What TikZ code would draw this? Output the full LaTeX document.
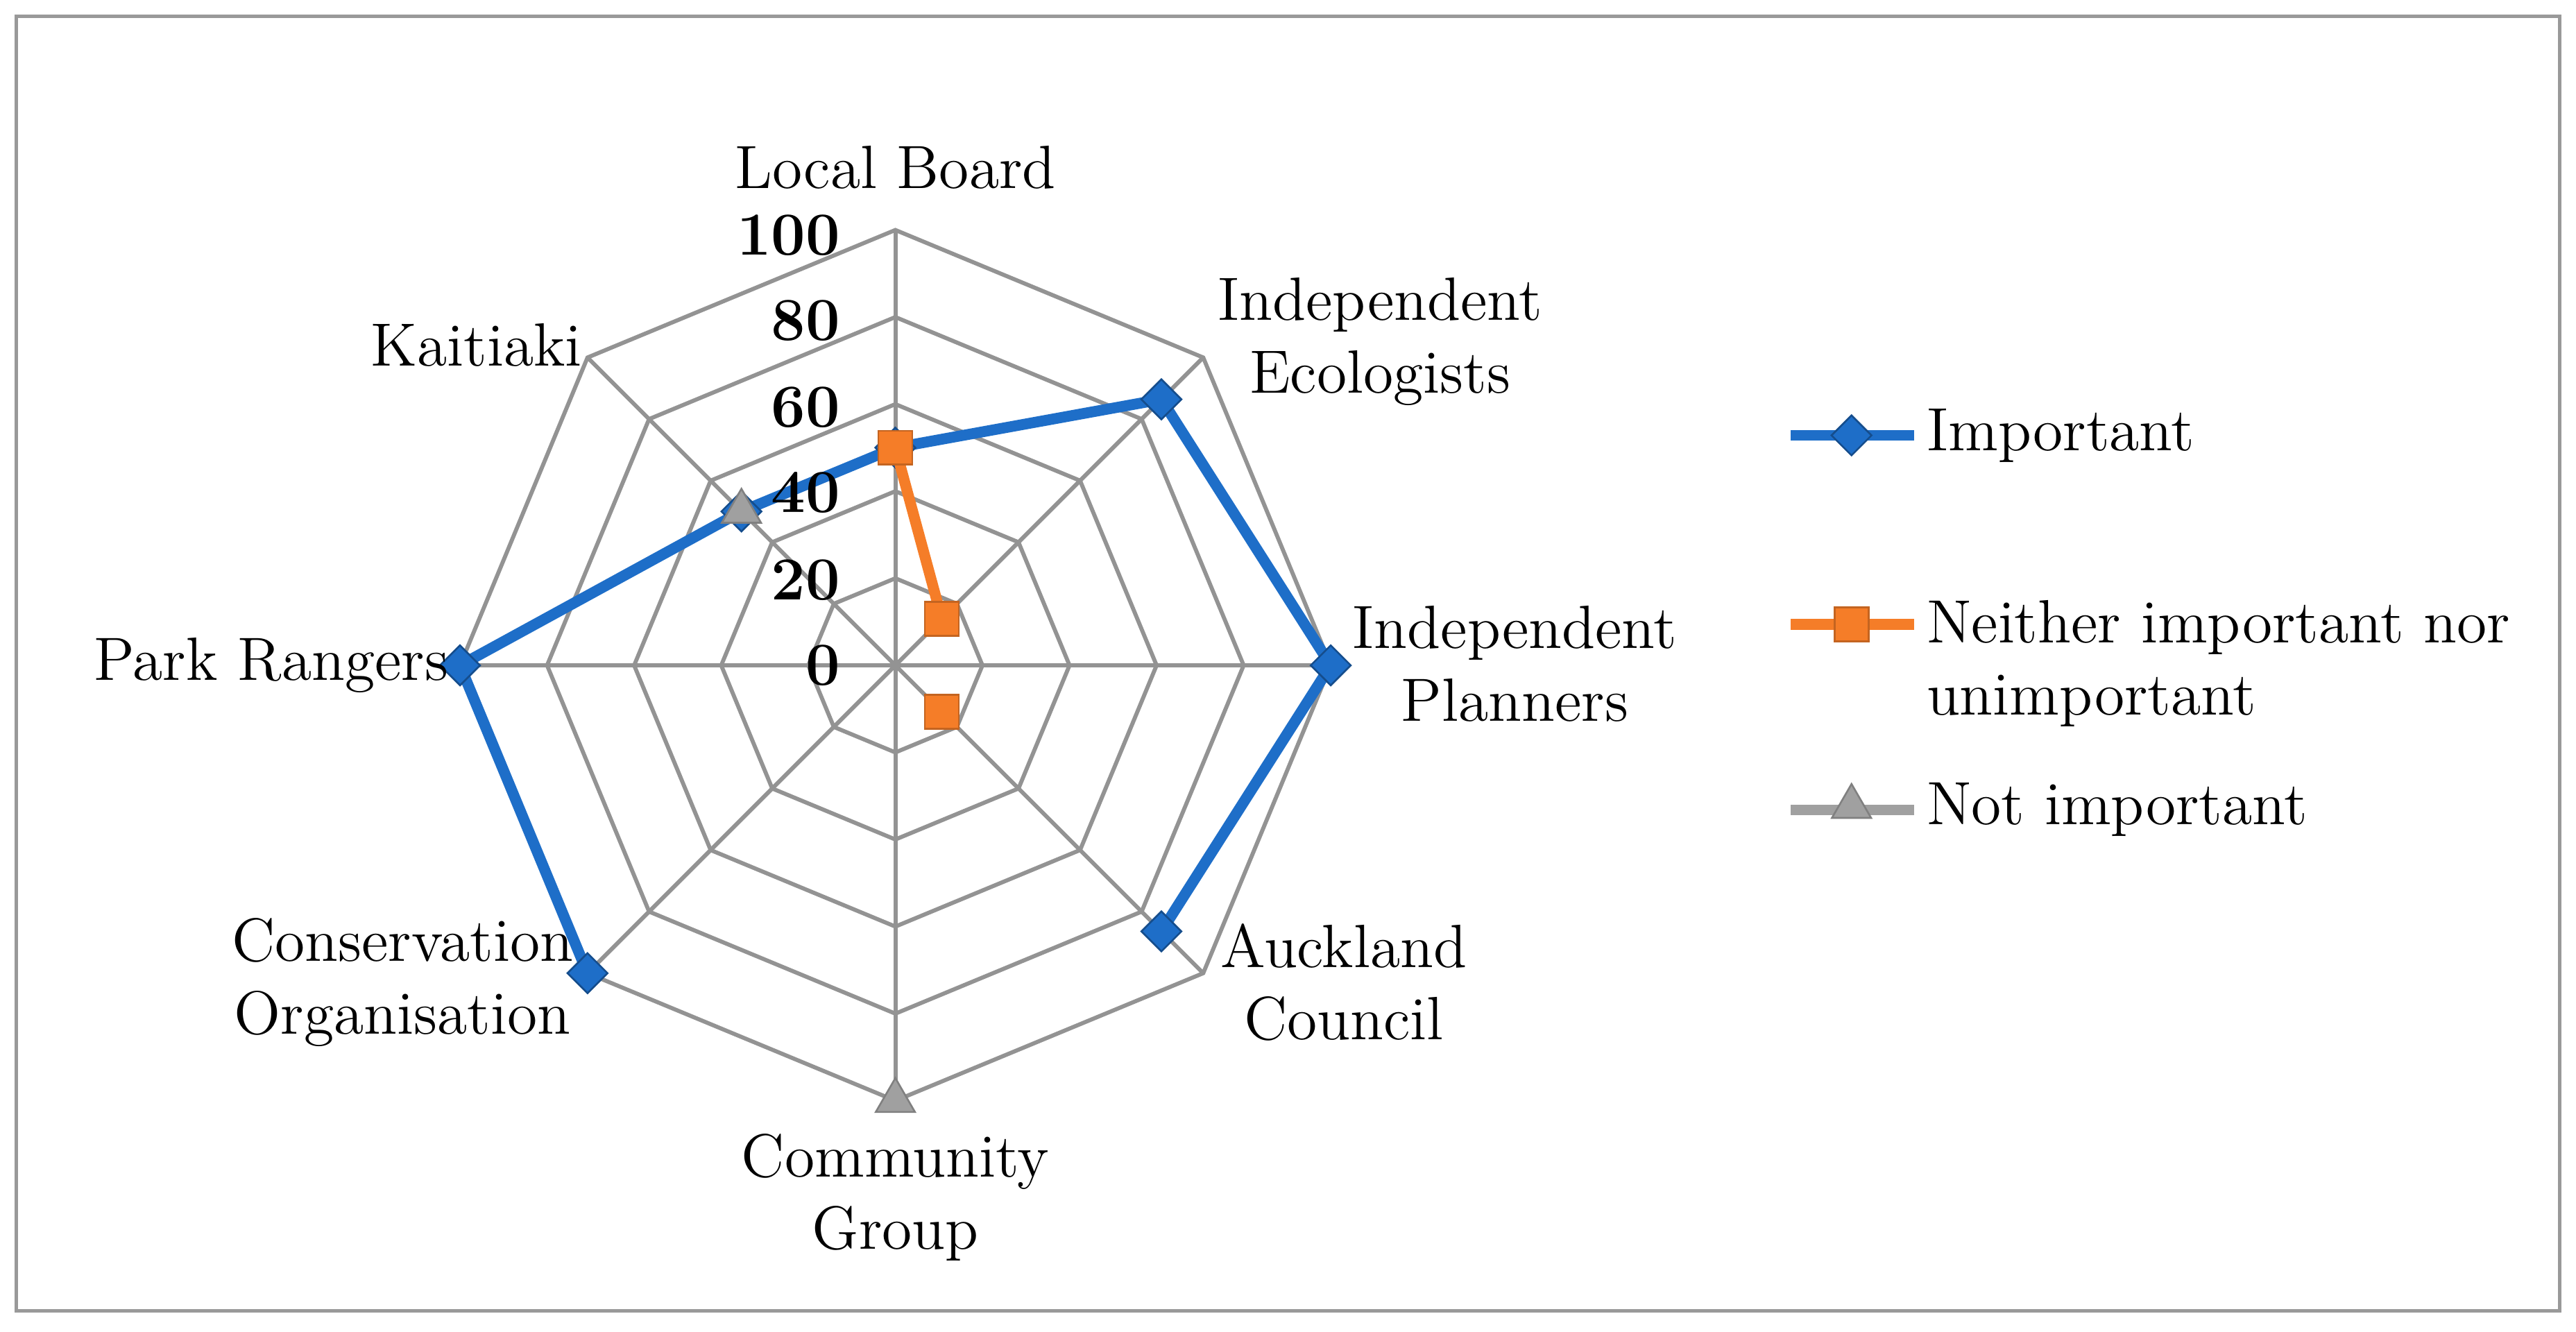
\documentclass[tikz,border=0pt]{standalone}
\usetikzlibrary{shapes.geometric}
\definecolor{cblue}{RGB}{30,110,200}
\definecolor{corange}{RGB}{245,125,40}
\definecolor{cgray}{RGB}{160,160,160}
\begin{document}
\begin{tikzpicture}[x=0.012755cm,y=0.012755cm,
  grid/.style={draw=gray!85,line width=0.9pt},
  lab/.style={font=\fontsize{13.5}{16}\selectfont,align=center},
  tick/.style={font=\fontsize{13.5}{16}\selectfont\bfseries,anchor=east,inner sep=0pt},
  imp/.style={draw=cblue,line width=2.4pt},
  neu/.style={draw=corange,line width=2.4pt},
  dia/.style={diamond,fill=cblue,draw=cblue!70!black,line width=0.4pt,minimum size=9pt,inner sep=0pt},
  sq/.style={rectangle,fill=corange,draw=corange!80!black,line width=0.4pt,minimum size=7.5pt,inner sep=0pt},
  tri/.style={regular polygon,regular polygon sides=3,fill=cgray,draw=cgray!80!black,line width=0.4pt,minimum size=10pt,inner sep=0pt}]
\useasboundingbox (0,0) rectangle (1568,-810.8);
\draw[gray!80,line width=0.8pt] (10,-10) rectangle (1558,-798);
\begin{scope}[shift={(545,-405)}]
  \foreach \r in {53,106,159,212,265}
    \draw[grid] (0:\r) \foreach \a in {45,90,...,315}{ -- (\a:\r)} -- cycle;
  \foreach \a in {0,45,...,315} \draw[grid] (0,0) -- (\a:265);
  \coordinate (i1) at (90:132.5);
  \coordinate (i2) at (45:229);
  \coordinate (i3) at (0:265);
  \coordinate (i4) at (-45:229);
  \coordinate (i6) at (-135:265);
  \coordinate (i7) at (180:265);
  \coordinate (i8) at (135:132.5);
  \draw[imp] (i1) -- (i2) -- (i3) -- (i4);
  \draw[imp] (i6) -- (i7) -- (i8) -- (i1);
  \foreach \n in {i1,i2,i3,i4,i6,i7,i8} \node[dia] at (\n) {};
  \coordinate (n1) at (90:132.5);
  \coordinate (n2) at (45:40);
  \coordinate (n4) at (-45:40);
  \draw[neu] (n1) -- (n2);
  \foreach \n in {n1,n2,n4} \node[sq] at (\n) {};
  \node[tri] (g8) at (135:132.5) {};
  \node[tri] (g5) at (-90:265) {};
\end{scope}
\node[tick] at (512,-143) {100};
\node[tick] at (512,-195) {80};
\node[tick] at (512,-248) {60};
\node[tick] at (512,-300) {40};
\node[tick] at (512,-353) {20};
\node[tick] at (512,-405) {0};
\node[lab] at (545,-102) {Local Board};
\node[lab] at (840,-208) {Independent\\Ecologists};
\node[lab] at (922,-404) {Independent\\Planners};
\node[lab] at (818,-598) {Auckland\\Council};
\node[lab] at (545,-729) {Community\\Group};
\node[lab] at (245,-598) {Conservation\\Organisation};
\node[lab] at (165,-405) {Park Rangers};
\node[lab] at (290,-210) {Kaitiaki};
% legend
\coordinate (la) at (1090,-265); \coordinate (lb) at (1165,-265);
\draw[imp] (la) -- (lb); \node[dia] at (1127,-265) {};
\node[lab,anchor=west] at (1163,-265) {Important};
\coordinate (lc) at (1090,-380); \coordinate (ld) at (1165,-380);
\draw[neu] (lc) -- (ld); \node[sq] at (1127,-380) {};
\node[lab,anchor=west,align=left] at (1163,-404) {Neither important nor\\unimportant};
\coordinate (le) at (1090,-493); \coordinate (lf) at (1165,-493);
\draw[draw=cgray,line width=2.4pt] (le) -- (lf); \node[tri] at (1127,-491) {};
\node[lab,anchor=west] at (1163,-493) {Not important};
\end{tikzpicture}
\end{document}
